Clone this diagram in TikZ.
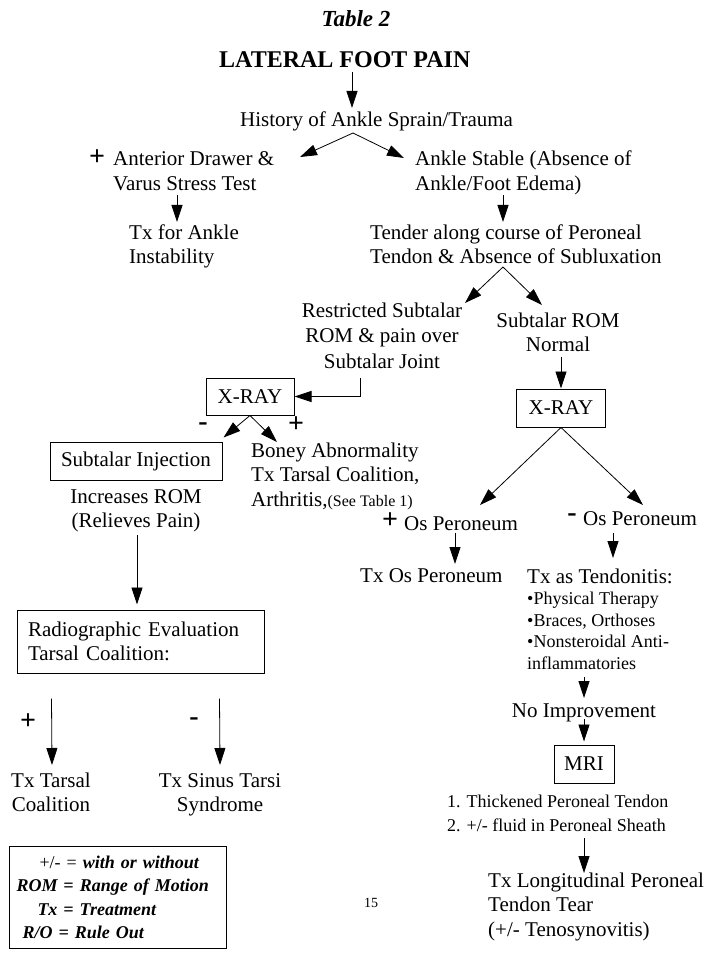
\documentclass[tikz,border=0pt]{standalone}
\usepackage{fontspec}
\setmainfont{Liberation Serif}
\usetikzlibrary{arrows.meta,calc}
\newcommand\bodyfont{\fontsize{21}{24.5}\selectfont}
\newcommand\restrfont{\fontsize{21}{25.5}\selectfont}
\newcommand\bulfont{\fontsize{18}{21.5}\selectfont}
\newcommand\listfont{\fontsize{18}{24}\selectfont}
\newcommand\signfont{\fontsize{28}{28}\selectfont\bfseries}
\newcommand\legendfont{\fontsize{18}{23.3}\selectfont\bfseries\itshape}
\tikzset{
  txt/.style={font=\bodyfont, inner sep=0pt, anchor=base west, align=left},
  ctxt/.style={font=\bodyfont, inner sep=0pt, anchor=base, align=center},
  sign/.style={font=\signfont, inner sep=0pt, anchor=center},
  boxnode/.style={draw, line width=1pt, font=\bodyfont, inner sep=0pt},
  arr/.style={line width=0.8pt, -{Triangle[length=17pt,width=11pt]}},
}
\begin{document}
\begin{tikzpicture}[x=1pt,y=-1pt]
\useasboundingbox[fill=white] (0,0) rectangle (716,957);

% ---- top (multi-line nodes are placed at the baseline of their last line)
\node[font=\fontsize{23}{27}\selectfont\bfseries\itshape, inner sep=0pt, anchor=base] (title) at (356,27) {Table 2};
\node[font=\fontsize{24}{28}\selectfont\bfseries, inner sep=0pt, anchor=base west] (lat) at (219,68) {LATERAL FOOT PAIN};
\node[txt] (hist) at (240,127) {History of Ankle Sprain/Trauma};

% ---- left upper branch
\node[sign] (plusA) at (97,158) {+};
\node[txt] (ant) at (113,190.5) {Anterior Drawer \&\\Varus Stress Test};
\node[txt] (txank) at (129,263.5) {Tx for Ankle\\Instability};

% ---- right upper branch
\node[txt] (stable) at (415,190.5) {Ankle Stable (Absence of\\Ankle/Foot Edema)};
\node[txt] (tender) at (370,263.5) {Tender along course of Peroneal\\Tendon \& Absence of Subluxation};
\node[ctxt, font=\restrfont] (restr) at (382,368) {Restricted Subtalar\\ROM \& pain over\\Subtalar Joint};
\node[ctxt] (normal) at (558,351.5) {Subtalar ROM\\Normal};

% ---- boxes
\node[boxnode, minimum width=89pt, minimum height=38pt] (xr) at (561,408) {X-RAY};
\node[boxnode, minimum width=88pt, minimum height=37pt] (xl) at (250,396.5) {X-RAY};
\node[sign] (minusL) at (203,427) {-};
\node[sign] (plusL) at (296,425) {+};
\node[boxnode, minimum width=172pt, minimum height=38pt] (inj) at (136,461) {Subtalar Injection};
\node[ctxt] (incr) at (136,527.5) {Increases ROM\\(Relieves Pain)};
\node[txt] (boney) at (251,506) {Boney Abnormality\\Tx Tarsal Coalition,\\Arthritis,{\fontsize{16}{20}\selectfont(See Table 1)}};

% ---- left lower
\node[boxnode, align=left, text width=225.5pt, inner xsep=10.5pt, minimum height=63pt] (radio) at (140.75,641.5) {Radiographic Evaluation\\Tarsal Coalition:};
\node[sign] (plusB) at (28,722) {+};
\node[sign] (minusB) at (194,722) {-};
\node[ctxt] (txtc) at (51,811.5) {Tx Tarsal\\Coalition};
\node[ctxt] (txsin) at (220,811.5) {Tx Sinus Tarsi\\Syndrome};

% ---- legend
\node[draw, line width=1pt, anchor=north west, align=left, text width=203pt, inner xsep=7pt, inner ysep=0pt, minimum height=102pt, font=\legendfont] (legend) at (9,846)
  {\hspace*{23pt}{\normalfont +/- =} with or without\\ROM = Range of Motion\\\hspace*{21pt}Tx = Treatment\\\hspace*{6pt}R/O = Rule Out};
\node[font=\fontsize{14}{16}\selectfont, inner sep=0pt] (page) at (371,903) {15};

% ---- right lower
\node[sign] (plusC) at (390,521) {+};
\node[txt] (osplus) at (404,530) {Os Peroneum};
\node[sign] (minusC) at (572,518) {-};
\node[txt] (osminus) at (583,525) {Os Peroneum};
\node[txt] (txos) at (360,582) {Tx Os Peroneum};
\node[txt] (tend) at (527,583) {Tx as Tendonitis:};
\node[txt, font=\bulfont] (bul) at (527,669) {•Physical Therapy\\•Braces, Orthoses\\•Nonsteroidal Anti-\\inflammatories};
\node[ctxt] (noimp) at (584,717) {No Improvement};
\node[boxnode, minimum width=60pt, minimum height=38pt] (mri) at (584,764) {MRI};
\node[txt, font=\listfont] (thick) at (447,831) {1. Thickened Peroneal Tendon\\2. +/- fluid in Peroneal Sheath};
\node[txt] (txlong) at (488,936) {Tx Longitudinal Peroneal\\Tendon Tear\\(+/- Tenosynovitis)};

% ---- connectors
\draw[arr] ($(lat.base west)+(133,4)$) -- ($(hist.base west)+(112,-19)$);
\draw[arr] ($(hist.base west)+(113,6)$) -- ($(ant.base west)+(187,-33.5)$);
\draw[arr] ($(hist.base west)+(113,6)$) -- ($(stable.base west)+(-11,-32.5)$);
\draw[arr] ($(ant.base west)+(64,4.5)$) -- ($(txank.base west)+(48,-41.5)$);
\draw[arr] ($(stable.base west)+(88,4.5)$) -- ($(tender.base west)+(133,-41.5)$);
\draw[arr] ($(tender.base west)+(133,3.5)$) -- ($(restr.base)+(83,-65)$);
\draw[arr] ($(tender.base west)+(133,3.5)$) -- ($(normal.base)+(-16,-46.5)$);
\draw[arr] ($(normal.base)+(3,5.5)$) -- (xr.north);
\draw[arr] ($(restr.base)+(-22,10)$) |- (xl.east);
\draw[arr] (xl.south) -- ($(inj.north east)+(1,-4)$);
\draw[arr] (xl.south) -- ($(boney.base west)+(26,-64)$);
\draw[arr] ($(incr.base)+(1,7.5)$) -- ($(radio.north)+(-3.75,-5)$);
\draw[arr] ($(radio.south west)+(34.5,25)$) -- ($(txtc.base)+(1,-46.5)$);
\draw[arr] ($(radio.south west)+(202.5,25)$) -- ($(txsin.base)+(0,-46.5)$);
\draw[arr] (xr.south) -- ($(osplus.base west)+(76,-25)$);
\draw[arr] (xr.south) -- ($(osminus.base west)+(60,-20)$);
\draw[arr] ($(osplus.base west)+(51,3)$) -- ($(txos.base west)+(95,-18)$);
\draw[arr] ($(osminus.base west)+(30,8)$) -- ($(tend.base west)+(86,-25)$);
\draw[arr] ($(bul.base west)+(57,8)$) -- ($(noimp.base)+(0,-19)$);
\draw[arr] ($(noimp.base)+(0,2)$) -- ($(mri.north)+(0,-3)$);
\draw[arr] ($(thick.base west)+(137,7)$) -- ($(txlong.base west)+(96,-63)$);
\end{tikzpicture}
\end{document}
